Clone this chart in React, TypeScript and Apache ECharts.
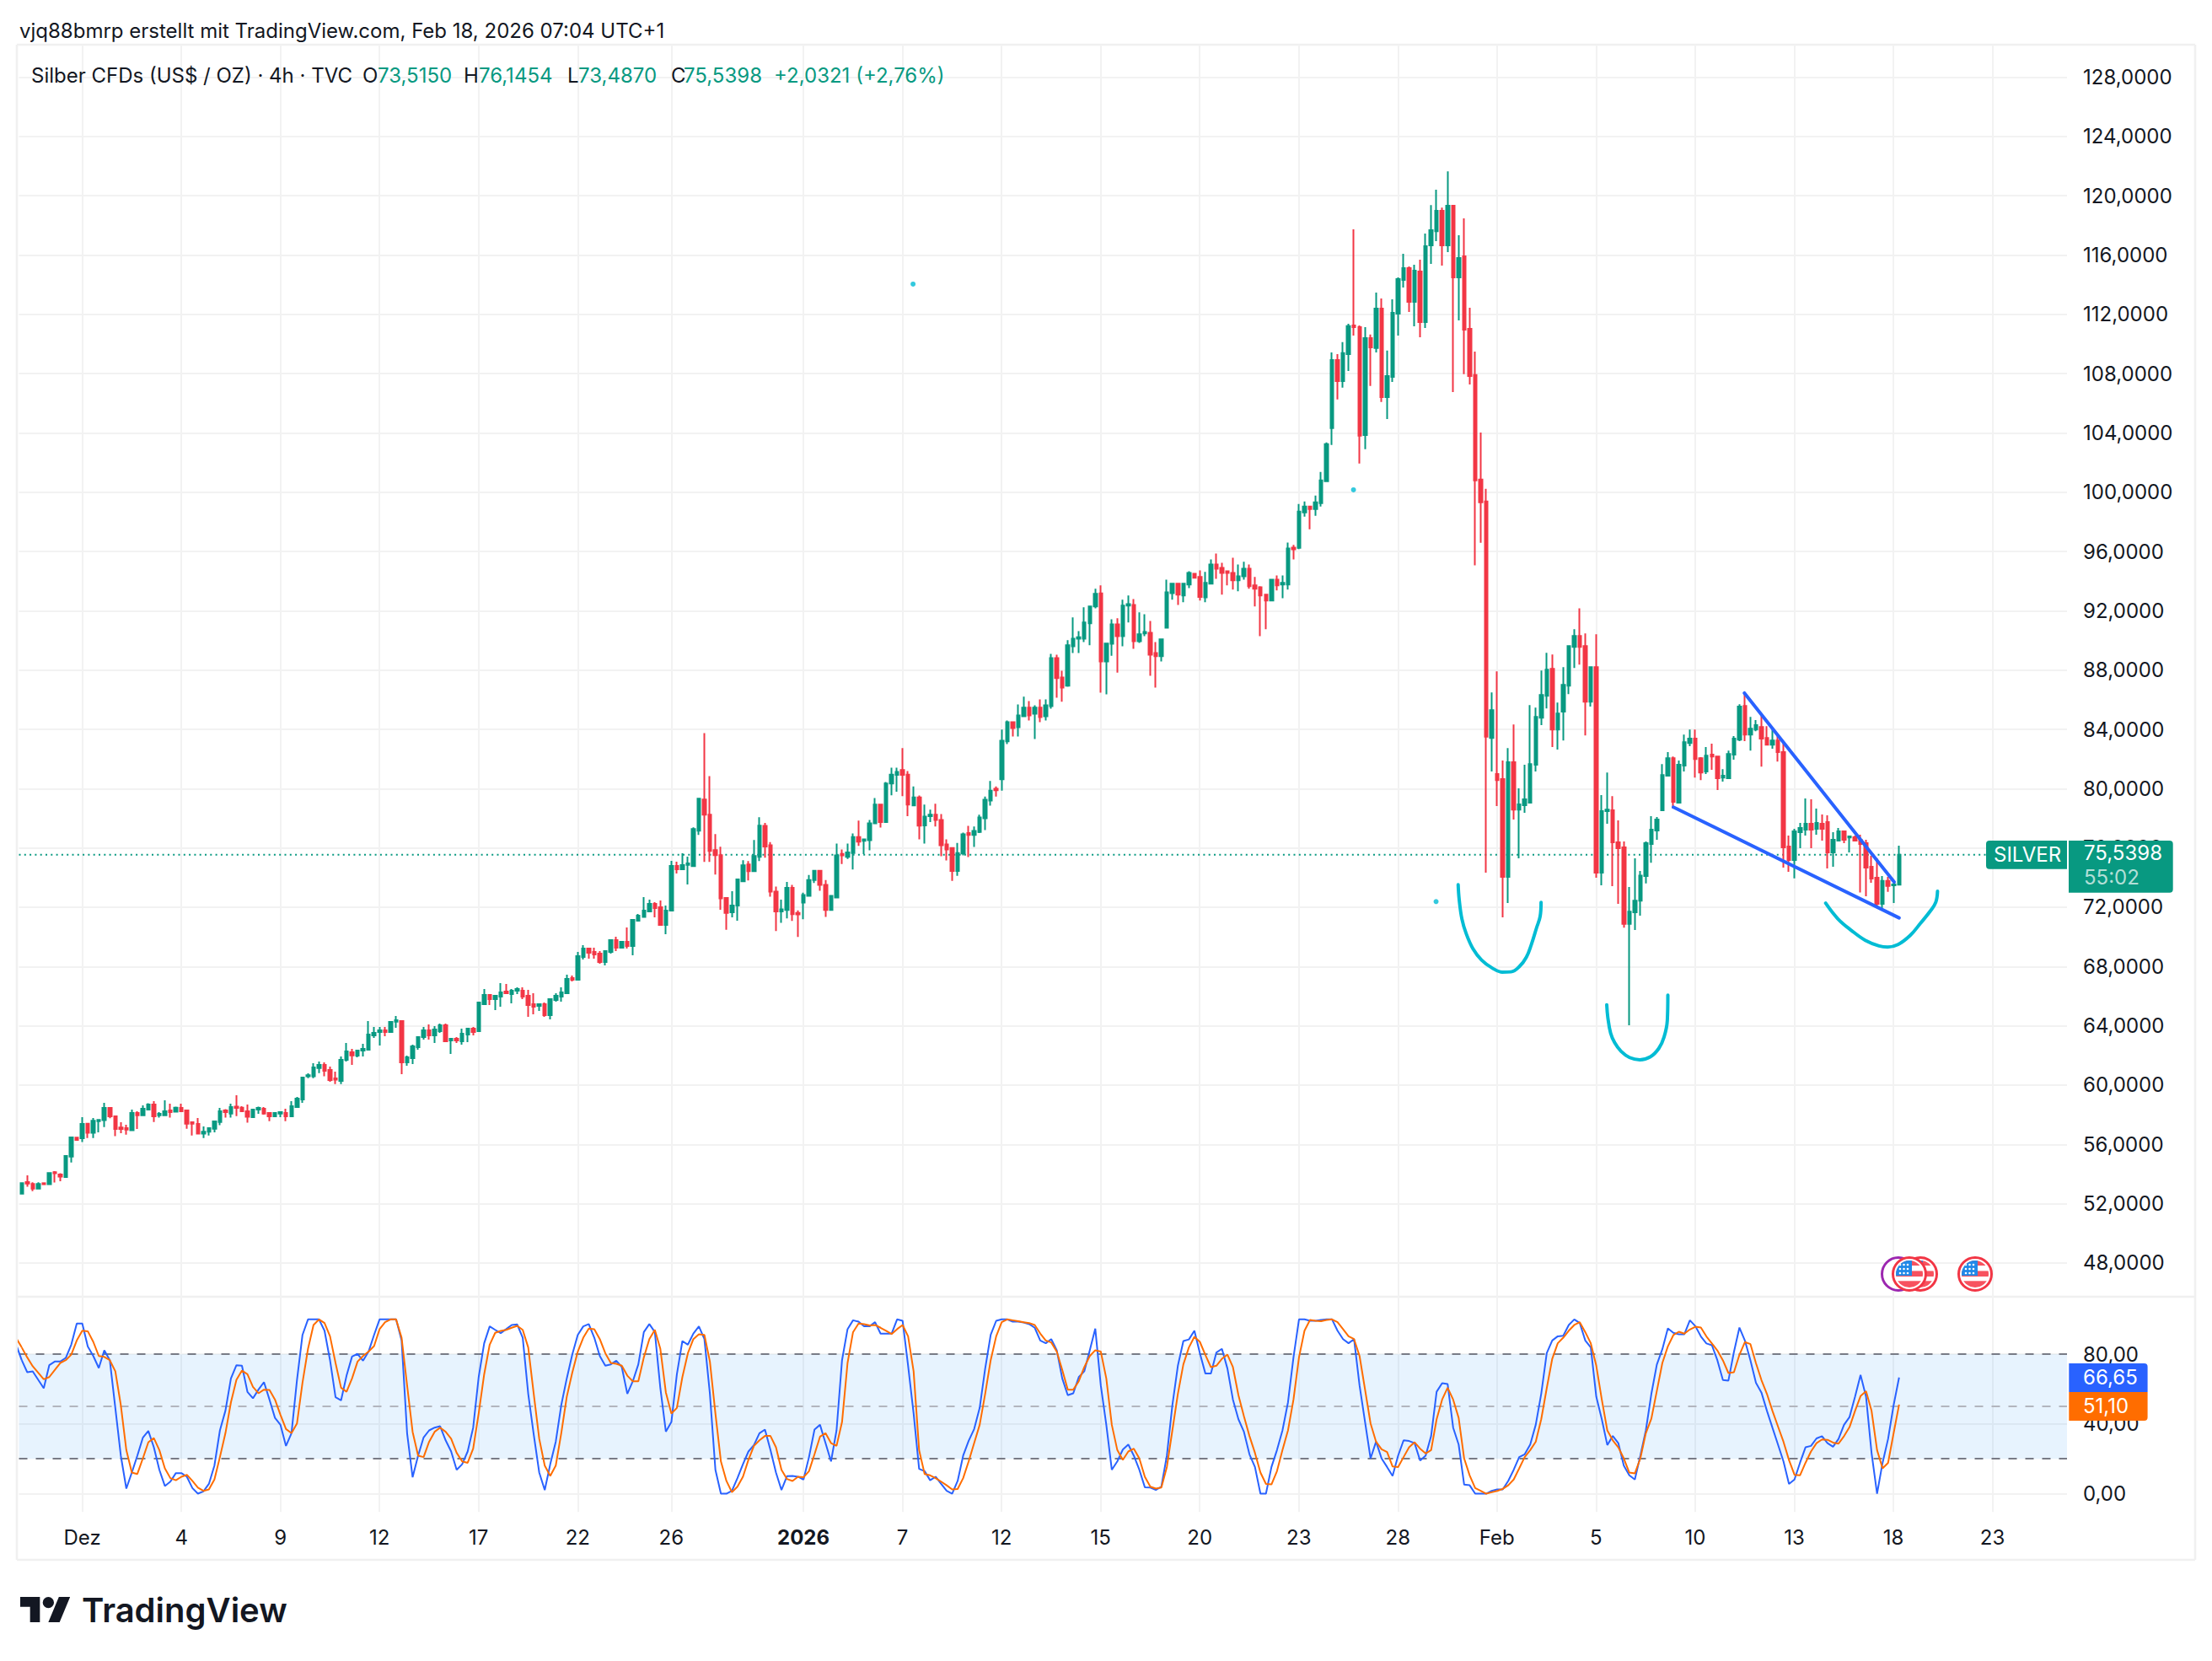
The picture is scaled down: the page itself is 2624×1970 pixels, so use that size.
import React, { useEffect, useRef } from "react";
import * as echarts from "echarts";

// [open, high, low, close], 4h bars
const candles: number[][] = [
[52.68,53.44,52.68,53.38],[53.46,53.91,53.14,53.36],[53.33,53.44,52.85,53.02],[53.02,53.44,53.02,53.33],[53.38,53.38,53.31,53.31],[53.31,54.06,53.31,54.06],[54.12,54.2,53.42,54.05],[53.97,54.05,53.51,53.82],[53.8,55.28,53.76,55.22],[55.18,56.53,54.78,56.47],
[56.45,56.45,56.26,56.3],[56.41,57.84,56.15,57.38],[57.4,57.44,56.43,56.78],[56.78,57.78,56.43,57.59],[57.57,57.67,56.81,57.65],[57.63,58.8,57.17,58.46],[58.46,58.46,57.76,57.89],[57.89,57.93,56.55,57.04],[57.14,57.5,56.76,57.04],[57.1,57.33,56.66,57],
[56.95,58.35,56.95,58.12],[58.12,58.23,57.04,57.97],[57.97,58.63,57.97,58.41],[58.35,58.77,58.31,58.69],[58.69,58.92,57.51,57.89],[57.97,58.18,57.8,58.06],[57.97,58.97,57.97,58.23],[58.29,58.75,57.8,58.18],[58.2,58.54,58.2,58.48],[58.46,58.75,58.23,58.23],
[58.29,58.33,57.06,57.4],[57.5,57.55,56.6,57.4],[57.38,57.78,56.72,56.72],[56.72,57.21,56.43,56.85],[56.85,57.15,56.6,57.1],[57.06,57.61,56.81,57.55],[57.51,58.46,57.29,58.23],[58.29,58.37,57.8,58.18],[58.08,58.75,57.8,58.52],[58.54,59.32,57.91,58.46],
[58.48,58.58,58.18,58.23],[58.23,58.69,57.46,57.86],[57.84,58.41,57.8,58.35],[58.35,58.54,58.06,58.46],[58.41,58.52,58.01,58.08],[58.12,58.18,57.57,57.89],[57.89,58.12,57.84,58.12],[58.08,58.18,57.84,58.18],[58.12,58.41,57.57,57.89],[57.89,58.92,57.84,58.58],
[58.52,59.2,58.46,59.09],[59.03,60.57,58.8,60.51],[60.59,60.79,60.47,60.66],[60.59,61.48,60.47,61.19],[61.15,61.59,60.81,61.36],[61.36,61.53,60.59,60.96],[61.02,61.25,60.23,60.34],[60.45,60.91,60.07,60.36],[60.28,61.93,60.07,61.7],[61.7,62.84,61.59,62.27],
[62.22,62.44,61.36,62],[61.99,62.39,61.87,62.33],[62.33,62.78,61.93,62.44],[62.39,64.32,62.33,63.41],[63.35,63.92,63.18,63.52],[63.58,63.92,62.67,63.69],[63.69,63.92,63.3,63.58],[63.58,64.32,63.52,64.26],[64.28,64.66,63.86,64.38],[64.32,64.38,60.74,61.53],
[61.53,61.99,61.31,61.87],[61.82,62.73,61.42,62.61],[62.56,63.3,62.39,63.24],[63.24,63.92,63.07,63.69],[63.69,64.09,63.07,63.35],[63.35,63.98,62.84,63.75],[63.64,64.15,63.52,64.04],[64.04,64.15,62.9,62.96],[63.01,63.18,62.1,63.13],[63.13,63.24,62.84,63.01],
[62.96,63.81,62.73,63.47],[63.41,63.87,62.9,63.81],[63.81,63.92,63.35,63.58],[63.64,65.63,63.64,65.57],[65.46,66.48,65.46,66.08],[66.08,66.08,65.4,65.8],[65.8,66.08,65.06,66.03],[65.97,66.88,65.29,66.25],[66.31,66.82,66.14,66.2],[66.14,66.48,65.51,66.37],
[66.37,66.59,66.14,66.48],[66.37,66.59,65.8,65.97],[66.03,66.42,64.6,65.4],[65.46,66.2,64.77,65.29],[65.34,65.51,65,65.46],[65.46,65.57,64.6,64.72],[64.72,65.86,64.43,65.8],[65.74,66.2,65.63,66.03],[65.97,66.59,65.63,66.25],[66.2,67.45,66.2,67.16],
[67.22,67.39,66.99,67.11],[67.11,68.98,67.11,68.7],[68.64,69.44,68.47,69.21],[69.21,69.21,68.53,68.93],[68.98,69.27,68.53,68.81],[68.87,69.04,68.19,68.3],[68.3,69.04,68.07,69.04],[68.98,69.78,68.87,69.78],[69.78,70.01,69.04,69.27],[69.27,69.72,69.27,69.67],
[69.67,70.63,69.21,69.38],[69.38,71.14,68.76,71.14],[71.09,71.54,71.03,71.43],[71.35,72.68,71.3,71.77],[71.71,72.51,71.71,72.23],[72.23,72.34,71.32,71.94],[72,72.45,70.75,70.8],[70.8,72.11,70.18,71.77],[71.77,75.13,71.77,74.78],[74.78,75.07,74.27,74.56],
[74.56,75.64,74.5,74.84],[74.86,75.41,73.53,74.96],[74.77,77.39,74.77,77.27],[77.16,79.32,76.88,79.32],[79.26,83.75,75.06,78.24],[78.24,80.85,75.06,75.8],[75.85,76.93,74.2,75.51],[75.51,76.08,71.83,72.59],[72.62,72.66,70.48,71.62],[71.66,73.08,71.32,72.11],
[72.11,73.93,71.09,73.87],[73.75,75.17,73.75,74.83],[74.89,75.11,73.81,74.43],[74.43,76.53,74.43,75.46],[75.4,78.07,75.11,77.5],[77.49,77.69,75.34,76.1],[76.18,76.4,72.71,73.05],[73.05,73.39,70.39,71.71],[71.71,72.51,70.95,71.85],[71.81,73.71,71.25,73.31],
[73.31,73.51,71.07,71.53],[71.61,71.79,69.99,71.51],[72.31,72.98,71.19,72.82],[72.76,74.18,72.71,73.84],[73.84,74.52,73.64,74.46],[74.46,74.5,73.11,73.51],[73.51,73.84,71.35,71.81],[71.81,72.82,71.81,72.76],[72.66,76.3,72.66,75.5],[75.6,75.9,74.92,75.5],
[75.4,76.3,75.26,75.7],[75.66,76.98,74.54,76.74],[76.74,77.84,76.14,76.42],[76.48,76.58,75.58,76.58],[76.52,77.88,75.84,77.66],[77.66,79.37,77.66,78.92],[78.92,78.98,77.38,77.74],[77.74,80.45,77.74,80.35],[80.35,81.41,79.55,80.95],[80.93,81.41,79.79,81.13],
[81.25,82.73,79.49,80.93],[80.95,81.19,78.14,78.93],[78.87,80.15,78.87,79.41],[79.41,79.53,76.58,77.5],[77.52,78.92,76.3,78.12],[78.14,78.58,77.74,78.24],[78.24,78.98,77.44,77.88],[77.88,78.28,75.44,76.18],[76.24,76.58,75.16,75.9],[76,76,73.78,74.44],
[74.44,76.34,74.12,75.66],[75.62,77.04,75.5,76.92],[77,77.49,75.38,76.88],[76.88,77.44,76.06,77.14],[77.08,78.24,77,78.06],[78,79.47,77.2,79.25],[79.19,80.51,78.85,79.87],[79.99,80.15,79.47,79.89],[80.63,83.98,79.87,83.23],[83.19,84.6,83,84.48],
[84.48,84.54,83.52,84.08],[84.14,85.68,83.52,84.94],[84.88,86.2,84.82,85.46],[85.46,85.9,84.6,84.94],[85.06,85.62,83.35,85.46],[85.46,86.02,84.48,84.82],[84.88,86.02,84.6,85.62],[85.56,89.09,85.4,88.81],[88.81,89.03,86.14,87.46],[87.5,87.96,85.86,86.82],
[86.94,90.01,86.88,89.67],[89.61,91.55,89.15,90.11],[90.11,90.63,89.15,90.21],[90.11,92.23,89.89,91.21],[91.15,92.35,89.67,92.29],[92.29,93.48,92.17,93.14],[93.18,93.71,86.48,88.58],[88.58,89.83,86.36,89.79],[89.77,91.43,88.97,91.09],[91.09,91.49,87.83,90.29],
[90.29,92.75,89.61,92.35],[92.35,93.03,91.21,92.45],[92.39,92.79,89.43,89.95],[89.95,91.89,89.83,90.41],[90.47,91.77,90.29,90.57],[90.51,91.31,87.62,89.03],[89.15,89.89,86.82,88.93],[88.93,90.11,88.58,90.07],[90.85,94.1,90.81,93.25],[93.19,93.83,92.75,93.83],
[93.83,93.83,92.39,93.09],[93.03,93.89,92.57,93.83],[93.77,94.66,93.53,94.56],[94.5,94.56,94.22,94.22],[94.28,94.72,92.69,92.93],[92.91,94.62,92.57,93.89],[93.83,95.46,93.83,95.12],[95.12,95.86,94.16,94.84],[94.9,95.24,93.09,94.56],[94.66,94.72,93.71,94.56],
[94.56,95.58,93.43,94.05],[94.05,95.12,93.31,94.32],[94.32,95.3,94.1,94.84],[94.84,95.12,93.49,93.65],[93.71,94.28,92.29,93.49],[93.59,93.65,90.29,93.03],[93.09,93.15,90.75,92.69],[92.69,94.1,92.63,94.1],[94.1,94.38,93.37,93.71],[93.77,94.38,92.85,93.89],
[93.77,96.6,93.43,96.2],[96.26,96.44,95.46,96.14],[96.25,99.2,96.16,98.69],[98.64,99.38,98.35,99.03],[99.03,99.03,97.5,98.86],[98.86,99.77,98.41,99.32],[99.26,101.36,99.03,100.8],[100.74,103.35,100.74,103.24],[104.32,109.43,103.18,108.92],[108.92,109.32,106.25,107.5],
[107.5,110.12,107.05,109.38],[109.32,111.36,108.18,111.2],[111.25,117.73,110.57,111.14],[111.14,111.25,101.93,103.81],[103.86,111.14,102.9,110.4],[110.4,110.63,107.16,109.77],[109.72,113.47,109.43,112.39],[112.39,113.07,106.08,106.42],[106.42,109.55,104.94,107.84],[107.78,113.01,107.44,112.1],
[112.05,114.49,110.57,114.37],[114.32,116.08,113.81,115.11],[115.11,115.23,112.16,112.84],[112.84,115.34,111.19,114.94],[114.89,115.68,110.45,111.48],[111.48,117.45,111.08,116.59],[116.65,119.37,115.4,117.67],[117.61,120.4,116.93,118.98],[118.98,119.2,115.28,116.65],[116.65,121.65,116.2,119.32],
[119.32,119.32,106.76,114.49],[114.49,117.33,111.59,115.8],[115.91,118.47,107.96,110.97],[111.02,112.44,107.27,107.84],[107.9,109.49,95.06,100.8],[100.85,104.03,96.59,99.32],[99.37,100.23,74.33,83.5],[83.42,86.49,81.15,85.3],[80.98,87.91,78.82,80.58],[80.64,81.89,71.32,74.05],
[74.05,82.74,72.29,81.78],[81.78,84.33,77.91,78.59],[78.59,80.02,75.3,78.94],[78.88,81.61,78.37,79.28],[79.05,85.64,79.05,81.66],[81.61,85.47,81.15,84.84],[84.79,87.97,84.28,86.32],[86.26,89.16,85.41,88.03],[88.08,89.05,82.8,83.99],[83.99,85.81,82.63,85.07],
[85.19,88.2,83.25,87],[86.95,89.67,86.38,89.62],[89.56,90.75,88.14,90.3],[90.3,92.17,88.37,89.56],[89.62,90.47,83.59,85.87],[85.87,88.25,85.53,88.2],[88.2,90.41,73.99,74.33],[74.33,79.56,73.48,78.48],[78.48,81.09,77.63,78.59],[78.54,79.5,73.42,76.38],
[76.38,77.86,72.23,75.98],[76.04,76.43,70.62,70.87],[70.87,73.37,64.04,71.7],[71.66,75.3,70.47,72.44],[72.44,74.45,71.43,74.13],[74.1,76.43,73.6,76.32],[76.26,78.14,75,77.23],[77.17,78.08,76.55,77.91],[78.54,81.66,78.48,80.92],[80.87,82.46,80.81,82.06],
[82.06,82.17,78.65,79.11],[79.05,81.89,78.99,81.61],[81.55,83.65,81.15,83.14],[83.08,83.99,82.86,83.37],[83.37,83.99,80.75,82],[82.06,82.12,80.58,81.09],[81.15,82.8,80.98,82.23],[82.29,83.03,81.27,82.17],[82.17,82.23,79.9,80.7],[80.75,81.32,80.47,80.87],
[80.7,82.57,80.7,82.34],[82.29,83.54,81.95,83.37],[83.31,85.7,83.2,85.53],[85.58,86.44,83.2,83.65],[83.65,84.84,82.57,84.05],[83.99,84.62,83.88,84.28],[84.16,84.96,81.49,83.37],[83.42,84.22,82.91,82.97],[82.97,83.99,82.69,83.25],[83.25,83.59,81.83,82.46],
[82.46,83.2,74.67,76.04],[76.09,76.83,74.39,75.19],[75.19,77.29,73.94,77.12],[77.06,77.69,75.98,77.34],[77.23,79.33,76.83,77.63],[77.63,79.28,75.98,77.23],[77.29,78.65,76.89,77.69],[77.63,78.26,76.49,77.29],[77.74,78.2,74.62,75.7],[75.7,77.06,74.73,76.55],
[76.49,77.34,76.43,77.12],[77.12,77.17,76.32,76.55],[76.7,76.83,75.7,76.78],[76.72,76.83,76.43,76.49],[76.55,76.89,72.99,76.27],[76.32,76.55,72.74,74.67],[74.73,75.47,73.65,73.93],[73.99,75.3,72,72.23],[72.23,74.11,71.89,73.77],[73.77,74.05,73.03,73.43],
[73.48,73.77,72.29,73.54],[73.515,76.1454,73.487,75.5398],
];

const stochK: number[] = [
76.6,69.7,70.2,65.3,60.5,73.7,75.8,75.8,77.9,85.5,97.6,97.6,84.4,79,72.1,82.3,76.6,49.2,21.8,2.9,
12.1,21.8,32.1,36,26.6,13.7,4.4,6.9,11.8,11.8,9.7,3.2,0,1.3,5.6,16.1,36.3,47.6,66.1,73.7,
73.4,58.4,54.7,59.7,64,54,43.5,39.5,27.4,34.7,65.3,91.1,100,100,100,93.5,76.6,55.3,53.5,67.7,
78.7,80.2,76.3,81.5,91.1,100,100,100,100,87.9,34.7,9.4,21.8,32.3,36.3,37.9,38.7,30.6,24.2,13.7,
16.9,24.2,37.9,66.9,86.3,96,94,92.1,94.4,96.8,97.1,89.5,57.3,33.9,12.1,2.1,16.9,29.8,50.8,66.1,
79.8,91.1,96,97.3,89.5,79,73.4,74.2,76.3,72.6,57.3,64.5,74.2,92.7,97.3,92.7,60.5,35.6,41.1,68.5,
87.6,85.5,91.9,96,88.7,57.3,13.7,0,0,1.6,8.9,16.9,24.2,27.9,34.7,36.8,25,12.1,2.1,10,
10.2,9.7,8.1,21,36.8,39.5,29,18.5,36.3,76.6,94.4,99.5,98.7,96,96,98.4,91.8,91.8,91.8,100,
99.2,73.4,46,14.2,12.9,7.7,9.7,5.6,1.6,0,7.3,21.8,30.3,37.1,49.2,71.8,91.1,99.2,100,100,
98.7,98.7,98.2,97.3,95.2,87.9,86.3,88.7,82.3,66.1,56.5,57.6,66.9,70.2,82.3,94.7,62.1,39.5,13.7,18.5,
25.3,28.2,21.8,13.7,3.7,3.5,2.1,4,21.8,50.8,73.4,87.6,88.5,93.5,80.6,68.9,68.9,81,83.1,71.8,
54,42.7,35.5,22.6,15.3,0,0,15.3,25,36.3,52.4,78.2,100,100,99.2,99.2,99.7,100,100,93.5,
88.7,86.3,88.7,62.1,41.1,20.2,29.8,20.2,15.3,10.2,21.8,30.6,30.2,29,19,21.8,33.1,58.5,63.4,62.9,
37.9,28.2,5.2,4.8,0,0,0,1.6,2.4,2.4,7.3,13.7,21,22.6,28.2,39.5,57.3,80.6,87.9,90.3,
90.6,96.8,100,97.9,87.9,83.9,55.6,42.7,27.9,33.1,29,16.1,10.5,8.1,21.8,36.3,57.2,74.1,82.9,94.8,
92.3,91.5,91.5,99.5,96.1,90.2,86.2,85.2,76.5,65.2,64.9,81.3,95.3,87.8,76.5,63.6,58,47.5,37.8,28.2,
18.5,5.6,8.1,17.7,26.6,27.4,31.7,33,29,26.9,31.4,39.5,44,55.6,68.1,55.6,23.3,0,17.7,31.4,
50.7,66.65,
];

const stochD: number[] = [
83.9,78.2,73.1,69.4,65.6,66.9,71,75,76.6,79.8,87.9,93.5,93.2,87.1,79,78.5,76.6,70.2,50.8,25,
12.1,11.3,20.2,29.5,31.9,25,14.5,8.9,7.7,9.7,10.8,7.3,3.5,1.6,2.4,8.1,21,34.7,52.4,65.3,
70.6,68.5,61.3,57.6,59.7,59.5,54,45.2,37.1,34.7,40.3,63.7,83.1,96.8,100,97.9,90.3,75,60.8,58.5,
66.1,75.8,79,81.5,84.7,94.4,98.4,100,100,89.5,62.1,35.5,21.8,21,29.8,35.5,37.9,35.5,31.5,23.4,
18.5,17.7,25.8,46,68.5,85.5,92.3,93.4,94,95.2,96.3,94,83.9,57.3,31.5,16.1,10.2,16.1,34.7,55.6,
69.4,81.5,89.5,94.7,94.4,88.7,80.6,75,74.5,73.4,67.7,64.5,64.5,78.2,88.7,94,83.1,58.1,46,49.2,
66.9,80.6,88.7,91.5,91.1,75.8,46,18.5,7.3,0.8,4,9.7,19.4,27.4,30.6,33.1,33.1,26.6,13.7,8.4,
7.3,9.7,9.4,12.9,22.6,32.7,34.7,29,27.4,41.1,75,92.7,97.6,97.3,96.5,96.8,95.2,93.5,91.6,94.4,
96.8,90.3,70.2,25,11.3,10.5,8.9,6.9,4.8,2.4,2.7,8.9,18.5,29,39.5,57.3,76.6,90.3,98.4,100,
99.5,99,98.4,97.9,96.8,91.9,87.9,86.8,81.5,71,59.7,59.7,64.5,72.6,79,82.3,81.5,66.1,39.5,25,
19.4,24.2,25.8,20.2,9.7,4,2.9,3.5,15.3,36.3,57.3,74.2,83.9,90,87.1,79.5,72.6,73.4,77.4,79.8,
72.6,56.5,44.4,33.1,23.4,12.1,5.6,5.3,12.9,25,36.3,54,78.2,93.5,99.7,99.2,99,99.7,100,98.4,
94.4,90.3,88.7,79,59.7,40.3,29.8,25.5,23.9,15.6,15.3,21,26.6,29.5,25.8,23.1,25,42.7,54,60.8,
54,43.5,20.2,10.5,3.2,1.6,0,0.8,1.6,2.7,4.8,8.1,14.5,21,25,29.8,42.7,60.5,77.4,86.3,
89.5,93.5,96.8,98.4,92.7,86.3,73.4,54,36.3,30.6,26.6,20.2,12.1,11.6,20.2,34.7,43,59,75,84.5,
91,92.9,91.8,94.2,95.8,95.3,90.2,86.2,82.1,76.5,69.2,69.7,79.7,87,85.8,74.9,65.2,57.2,47.5,38.6,
29.8,19.3,10.8,10.5,17.7,24.2,29,31.1,30.9,29.3,28.7,33,38.2,47.5,56,58.8,47.5,25,14.5,17.7,
34.6,51.1,
];

// The indicator lines start just before the first visible bar
const stochKLead = [[-0.89, 84.4], [0, 76.6]];
const stochDLead = [[-0.89, 88.7], [0, 83.9]];

// Date ticks: bar index → label
const tickBars = [11,29,47,65,83,101,118,142,160,178,196,214,232,250,268,286,304,322,340,358];
const tickTexts = ["Dez","4","9","12","17","22","26","2026","7","12","15","20","23","28","Feb","5","10","13","18","23"];
const SLOTS = 372;

const priceTicksMin = 48;
const priceTicksMax = 128;
const lastPrice = 75.5398;
const lastK = "66,65";
const lastD = "51,10";

// Drawn annotations, [bar position, price]
const wedgeUpper = [[312.9,86.45],[340.1,73.7]];
const wedgeLower = [[300,78.75],[341,71.28]];
const curveLeft = [[260.91,73.52],[261.1,72.51],[261.6,71.19],[262.35,70.24],[263.6,69.2],[265.16,68.44],[267.04,67.91],[268.9,67.62],[270.5,67.64],[272.04,68],[273.3,68.63],[274.2,69.48],[275.16,70.62],[275.8,71.38],[275.97,72.33]];
const curveMiddle = [[287.9,65.42],[288.1,64.55],[288.6,63.51],[289.35,62.85],[290.5,62.28],[292.04,61.86],[293.9,61.71],[295.8,61.9],[297.35,62.47],[298.3,63.23],[298.9,64.36],[299,66.07]];
const curveRight = [[327.66,72.27],[329.85,71.23],[332.35,70.43],[334.85,69.77],[337.35,69.39],[338.9,69.31],[340.8,69.48],[343,70.09],[344.85,70.9],[346.7,71.76],[347.66,72.33],[347.98,73.08]];
const cyanDots = [[161.9,114.04],[241.9,100.16],[256.9,72.38]];

const GREEN = "#089981";
const RED = "#f23645";
const INK = "#131722";
const GRID = "#f2f2f2";
const FONT = "Inter";

const categories = Array.from({ length: SLOTS }, (_, i) => String(i));
const tickSet = new Set(tickBars);
const tickText = (i: number) => tickTexts[tickBars.indexOf(i)] ?? "";
const comma = (v: number, d: number) => v.toFixed(d).replace(".", ",");

function flagUri(ring: string, withFlag: boolean): string {
  const stars: string[] = [];
  [-11, -6, -1].forEach((y) => [-11, -6.5, -2].forEach((x) => stars.push(`<circle cx="${22 + x}" cy="${22 + y}" r="1.3" fill="#fff"/>`)));
  const flag = withFlag
    ? `<g clip-path="url(#c)"><rect x="6" y="6" width="32" height="32" fill="#fff"/>` +
      `<rect x="6" y="6" width="32" height="6" fill="#f7525f"/><rect x="6" y="18.4" width="32" height="6.6" fill="#f7525f"/><rect x="6" y="30.3" width="32" height="8" fill="#f7525f"/>` +
      `<rect x="6" y="6" width="19" height="18" fill="#2189e8"/>${stars.join("")}</g>`
    : "";
  const svg = `<svg xmlns="http://www.w3.org/2000/svg" width="44" height="44" viewBox="0 0 44 44"><defs><clipPath id="c"><circle cx="22" cy="22" r="16"/></clipPath></defs><circle cx="22" cy="22" r="19.5" fill="#fff" stroke="${ring}" stroke-width="3"/>${flag}</svg>`;
  return "data:image/svg+xml;charset=utf-8," + encodeURIComponent(svg);
}

const LOGO_D = "M14 22H7V11H0V4h14v18zM28 22h-8l7.5-18h8L28 22zM20 4a4 4 0 1 0 0 8a4 4 0 0 0 0-8z";

function txt(text: string, x: number, y: number, fill: string = INK, size = 24, weight = 400, z = 120) {
  return {
    type: "text", x, y, z, silent: true,
    style: { text, fill, font: `${weight} ${size}px ${FONT}`, textVerticalAlign: "middle", textAlign: "left" },
  };
}
function frameLine(x1: number, y1: number, x2: number, y2: number) {
  return { type: "line", z: 0, silent: true, shape: { x1, y1, x2, y2 }, style: { stroke: "#f0f0f0", lineWidth: 2.5 } };
}
function icon(cx: number, ring: string, withFlag: boolean, z: number) {
  return { type: "image", x: cx - 22, y: 1511 - 22, z, silent: true, style: { image: flagUri(ring, withFlag), width: 44, height: 44 } };
}
function drawn(data: number[][], color: string, smooth: number) {
  return {
    type: "line", xAxisIndex: 1, yAxisIndex: 0, data, showSymbol: false, symbol: "none", smooth,
    silent: true, z: 5, lineStyle: { color, width: 4, cap: "round", join: "round" },
  };
}

export default function App() {
  const ref = useRef<HTMLDivElement>(null);
  useEffect(() => {
    if (!ref.current) return;
    echarts.graphic.registerShape("tvlogo", echarts.graphic.extendPath(LOGO_D, {}));
    const chart = echarts.init(ref.current, undefined, { renderer: "svg", width: 2624, height: 1970 });
    const GL = 22.5, GW = 2429.5;
    const TL = 25.8, TW = 2422.6;
    const y128 = 91.5, y48 = 1497.9;
    const hiddenCat = (gridIndex: number) => ({
      type: "category", gridIndex, data: categories, show: false, boundaryGap: true,
    });
    const tickAxis = (gridIndex: number, labels: boolean) => ({
      type: "category", gridIndex, data: categories, boundaryGap: false,
      axisLine: { show: false }, axisTick: { show: false },
      splitLine: { show: true, interval: (i: number) => tickSet.has(i), lineStyle: { color: GRID, width: 2 } },
      axisLabel: labels
        ? {
            show: true, interval: (i: number) => tickSet.has(i), margin: 18, color: INK, fontSize: 24, fontFamily: FONT,
            formatter: (_: string, i: number) => {
              const t = tickText(i);
              return t === "2026" ? `{b|${t}}` : t;
            },
            rich: { b: { fontWeight: 700, fontSize: 24, fontFamily: FONT, color: INK } },
          }
        : { show: false },
    });
    chart.setOption({
      animation: false,
      backgroundColor: "#ffffff",
      grid: [
        { left: GL, top: y128, width: GW, height: y48 - y128 },
        { left: TL, top: 53, width: TW, height: 1485 },
        { left: GL, top: 1523.5, width: GW, height: 330.7 },
        { left: TL, top: 1538, width: TW, height: 255.3 },
      ],
      xAxis: [
        hiddenCat(0),
        { type: "value", gridIndex: 0, min: -0.5, max: SLOTS - 0.5, show: false },
        tickAxis(1, false),
        hiddenCat(2),
        tickAxis(3, true),
        { type: "value", gridIndex: 2, min: -0.5, max: SLOTS - 0.5, show: false },
      ],
      yAxis: [
        {
          type: "value", gridIndex: 0, position: "right", min: priceTicksMin, max: priceTicksMax, interval: 4,
          axisLine: { show: false }, axisTick: { show: false },
          axisLabel: { margin: 19, color: INK, fontSize: 24, fontFamily: FONT, padding: [0, 0, 3, 0], formatter: (v: number) => comma(v, 4) },
          splitLine: { lineStyle: { color: GRID, width: 2 } },
        },
        { type: "value", gridIndex: 1, show: false },
        {
          type: "value", gridIndex: 2, position: "right", min: -40, max: 120, interval: 40,
          axisLine: { show: false }, axisTick: { show: false },
          axisLabel: { margin: 19, color: INK, fontSize: 24, fontFamily: FONT, padding: [0, 0, 3, 0], showMinLabel: false, showMaxLabel: false, formatter: (v: number) => comma(v, 2) },
          splitLine: { showMinLine: false, showMaxLine: false, lineStyle: { color: GRID, width: 2 } },
        },
        { type: "value", gridIndex: 3, show: false },
      ],
      series: [
        {
          type: "line", xAxisIndex: 1, yAxisIndex: 0, silent: true, showSymbol: false, symbol: "none", z: 1,
          data: [[-0.5, lastPrice], [SLOTS - 0.5, lastPrice]],
          lineStyle: { color: GREEN, width: 2, type: [2, 4.3] },
        },
        {
          type: "candlestick", xAxisIndex: 0, yAxisIndex: 0, silent: true, z: 3, barWidth: 4,
          data: candles.map(([o, h, l, c]) => [o, c, l, h]),
          itemStyle: { color: GREEN, color0: RED, borderColor: GREEN, borderColor0: RED, borderWidth: 2 },
        },
        drawn(wedgeUpper, "#2962ff", 0),
        drawn(wedgeLower, "#2962ff", 0),
        drawn(curveLeft, "#00bcd4", 0.4),
        drawn(curveMiddle, "#00bcd4", 0.4),
        drawn(curveRight, "#00bcd4", 0.4),
        {
          type: "scatter", xAxisIndex: 1, yAxisIndex: 0, data: cyanDots, symbolSize: 6, silent: true, z: 5,
          itemStyle: { color: "#00bcd4" },
        },
        {
          type: "line", xAxisIndex: 3, yAxisIndex: 2, data: stochK, showSymbol: false, symbol: "none", silent: true, z: 4,
          lineStyle: { color: "#2962ff", width: 2 },
          markArea: { silent: true, z: 1, itemStyle: { color: "rgba(33,150,243,0.11)" }, data: [[{ yAxis: 20 }, { yAxis: 80 }]] },
          markLine: {
            silent: true, symbol: "none", z: 2, label: { show: false },
            data: [
              { yAxis: 80, lineStyle: { color: "#787b86", width: 2, type: [10, 10] } },
              { yAxis: 50, lineStyle: { color: "#b2b5be", width: 2, type: [10, 10] } },
              { yAxis: 20, lineStyle: { color: "#787b86", width: 2, type: [10, 10] } },
            ],
          },
        },
        {
          type: "line", xAxisIndex: 3, yAxisIndex: 2, data: stochD, showSymbol: false, symbol: "none", silent: true, z: 5,
          lineStyle: { color: "#ff6d00", width: 2 },
        },
        {
          type: "line", xAxisIndex: 5, yAxisIndex: 2, data: stochKLead, clip: false, showSymbol: false, symbol: "none", silent: true, z: 4,
          lineStyle: { color: "#2962ff", width: 2 },
        },
        {
          type: "line", xAxisIndex: 5, yAxisIndex: 2, data: stochDLead, clip: false, showSymbol: false, symbol: "none", silent: true, z: 5,
          lineStyle: { color: "#ff6d00", width: 2 },
        },
      ],
      graphic: [
        frameLine(20, 53, 2604, 53),
        frameLine(20, 1538, 2604, 1538),
        frameLine(20, 1850, 2604, 1850),
        frameLine(20, 53, 20, 1850),
        frameLine(2604, 53, 2604, 1850),
        txt("vjq88bmrp erstellt mit TradingView.com, Feb 18, 2026 07:04 UTC+1", 23, 36),
        txt("Silber CFDs (US$ / OZ) · 4h · TVC", 37, 89),
        txt("O", 430, 89),
        txt("73,5150", 448, 89, GREEN),
        txt("H", 550, 89),
        txt("76,1454", 568, 89, GREEN),
        txt("L", 673, 89),
        txt("73,4870", 686, 89, GREEN),
        txt("C", 796, 89),
        txt("75,5398", 811, 89, GREEN),
        txt("+2,0321 (+2,76%)", 918, 89, GREEN),
        { type: "rect", z: 110, silent: true, shape: { x: 2356, y: 997, width: 96, height: 33.7, r: [4, 0, 0, 4] }, style: { fill: GREEN } },
        txt("SILVER", 2365, 1013.5, "#ffffff"),
        { type: "rect", z: 110, silent: true, shape: { x: 2454, y: 997, width: 123.7, height: 61.7, r: [0, 4, 4, 0] }, style: { fill: GREEN } },
        txt("75,5398", 2472, 1011.5, "#ffffff"),
        txt("55:02", 2472, 1040.5, "rgba(255,255,255,0.7)"),
        { type: "rect", z: 110, silent: true, shape: { x: 2454.3, y: 1617, width: 93.3, height: 34, r: [0, 4, 0, 0] }, style: { fill: "#2962ff" } },
        txt(lastK, 2471, 1633.5, "#ffffff"),
        { type: "rect", z: 110, silent: true, shape: { x: 2454.3, y: 1651, width: 93.3, height: 34, r: [0, 0, 4, 0] }, style: { fill: "#ff6d00" } },
        txt(lastD, 2471, 1667.5, "#ffffff"),
        icon(2252, "#9c27b0", false, 90),
        icon(2278, RED, true, 91),
        icon(2265, RED, true, 92),
        icon(2343, RED, true, 93),
        { type: "tvlogo", x: 24, y: 1887.3, scaleX: 1.667, scaleY: 1.667, z: 120, silent: true, style: { fill: INK } },
        txt("TradingView", 97, 1909, INK, 40, 600),
      ],
    });
    return () => chart.dispose();
  }, []);
  return <div ref={ref} style={{ position: "fixed", left: 0, top: 0, width: 2624, height: 1970, background: "#fff" }} />;
}
